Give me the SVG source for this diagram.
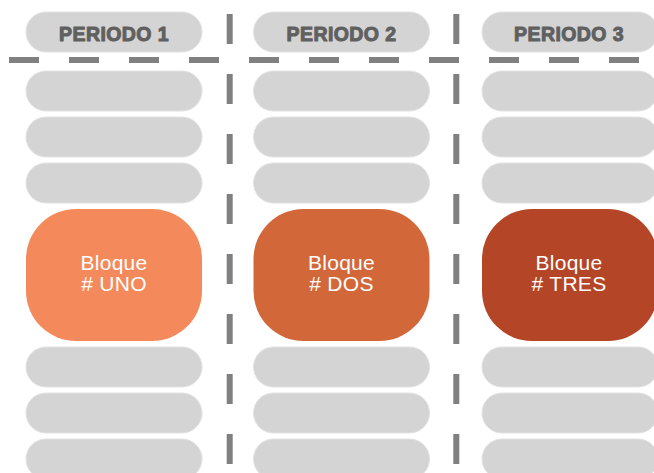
<svg xmlns="http://www.w3.org/2000/svg" width="654" height="473" viewBox="0 0 654 473">
<style>
.pill{fill:#d4d4d4;stroke:#e2e2e2;stroke-width:1}
.hdr{font-family:"Liberation Sans",Arial,sans-serif;font-weight:bold;font-size:19.5px;fill:#606060;stroke:#606060;stroke-width:1;stroke-linejoin:round;letter-spacing:0.4px;text-anchor:middle}
.blk{font-family:"Liberation Sans",Arial,sans-serif;font-size:21px;letter-spacing:0.3px;fill:#ffffff;text-anchor:middle}
.dash{stroke:#808080;stroke-width:6;fill:none;stroke-dasharray:30 30}
</style>
<rect width="654" height="473" fill="#ffffff"/>
<g id="connectors">
<line class="dash" x1="9" y1="60" x2="654" y2="60"/>
<line class="dash" x1="229.7" y1="14" x2="229.7" y2="473"/>
<line class="dash" x1="456.3" y1="14" x2="456.3" y2="473"/>
</g>
<g id="col1">
<g id="hdr1"><rect class="pill" x="26" y="12" width="176" height="40" rx="20"/><text class="hdr" x="114" y="40.5">PERIODO 1</text></g>
<rect class="pill" x="26" y="71" width="176" height="40" rx="20"/>
<rect class="pill" x="26" y="117" width="176" height="40" rx="20"/>
<rect class="pill" x="26" y="163" width="176" height="40" rx="20"/>
<g id="bloque1"><rect x="26" y="209" width="176" height="132" rx="50" fill="#f48a5b"/><text class="blk" x="114" y="269.5">Bloque</text><text class="blk" x="114" y="290.5"># UNO</text></g>
<rect class="pill" x="26" y="347" width="176" height="40" rx="20"/>
<rect class="pill" x="26" y="393" width="176" height="40" rx="20"/>
<rect class="pill" x="26" y="439" width="176" height="40" rx="20"/>
</g>
<g id="col2">
<g id="hdr2"><rect class="pill" x="253.5" y="12" width="176" height="40" rx="20"/><text class="hdr" x="341.5" y="40.5">PERIODO 2</text></g>
<rect class="pill" x="253.5" y="71" width="176" height="40" rx="20"/>
<rect class="pill" x="253.5" y="117" width="176" height="40" rx="20"/>
<rect class="pill" x="253.5" y="163" width="176" height="40" rx="20"/>
<g id="bloque2"><rect x="253.5" y="209" width="176" height="132" rx="50" fill="#d2683a"/><text class="blk" x="341.5" y="269.5">Bloque</text><text class="blk" x="341.5" y="290.5"># DOS</text></g>
<rect class="pill" x="253.5" y="347" width="176" height="40" rx="20"/>
<rect class="pill" x="253.5" y="393" width="176" height="40" rx="20"/>
<rect class="pill" x="253.5" y="439" width="176" height="40" rx="20"/>
</g>
<g id="col3">
<g id="hdr3"><rect class="pill" x="482" y="12" width="176" height="40" rx="20"/><text class="hdr" x="569" y="40.5">PERIODO 3</text></g>
<rect class="pill" x="482" y="71" width="176" height="40" rx="20"/>
<rect class="pill" x="482" y="117" width="176" height="40" rx="20"/>
<rect class="pill" x="482" y="163" width="176" height="40" rx="20"/>
<g id="bloque3"><rect x="482" y="209" width="176" height="132" rx="50" fill="#b44527"/><text class="blk" x="569" y="269.5">Bloque</text><text class="blk" x="569" y="290.5"># TRES</text></g>
<rect class="pill" x="482" y="347" width="176" height="40" rx="20"/>
<rect class="pill" x="482" y="393" width="176" height="40" rx="20"/>
<rect class="pill" x="482" y="439" width="176" height="40" rx="20"/>
</g>
</svg>
